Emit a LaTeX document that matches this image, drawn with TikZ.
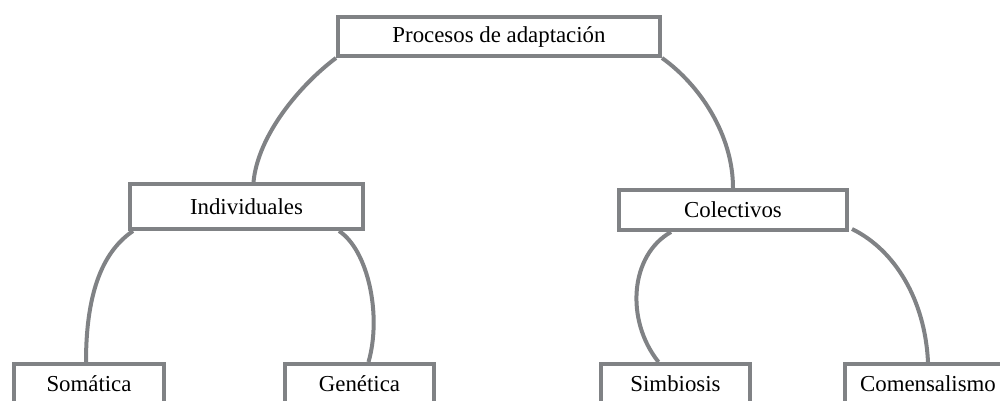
\documentclass[tikz,border=0pt]{standalone}
\usepackage{fontspec}
\setmainfont{Liberation Serif}
\usetikzlibrary{calc}
\definecolor{linegray}{RGB}{128,130,133}
\begin{document}
\begin{tikzpicture}[x=0.02cm,y=-0.02cm,
  box/.style={draw=linegray,line width=0.08cm,fill=white,inner sep=0pt,
    font=\fontsize{13}{15}\selectfont,text=black},
  link/.style={draw=linegray,line width=0.08cm}]
\useasboundingbox (0,0) rectangle (1000,401);
\clip (0,0) rectangle (1000,401);
\node[box,minimum width=322*0.02cm,minimum height=39*0.02cm] (top) at (499,36.5) {Procesos de adaptación};
\node[box,minimum width=233*0.02cm,minimum height=45*0.02cm] (ind) at (246.5,206.5) {Individuales};
\node[box,minimum width=228*0.02cm,minimum height=40*0.02cm] (col) at (733,210) {Colectivos};
\node[box,minimum width=150*0.02cm,minimum height=40*0.02cm] (som) at (89,384) {Somática};
\node[box,minimum width=149*0.02cm,minimum height=40*0.02cm] (gen) at (359.5,384) {Genética};
\node[box,minimum width=149*0.02cm,minimum height=40*0.02cm] (sim) at (675.5,384) {Simbiosis};
\node[box,minimum width=166*0.02cm,minimum height=40*0.02cm] (com) at (928,384) {Comensalismo};
\draw[link] (top.south west) .. controls (300,85) and (258,135) .. ($(ind.north)+(7,0)$);
\draw[link] (top.south east) .. controls (700,85) and (733,135) .. (col.north);
\draw[link] ($(ind.south west)+(5,0)$) .. controls (105,250) and (86,288) .. ($(som.north)+(-3,0)$);
\draw[link] ($(ind.south east)+(-26,0)$) .. controls (368,250) and (382,315) .. ($(gen.north)+(9,0)$);
\draw[link] ($(col.south west)+(54,0)$) .. controls (630,255) and (625,320) .. ($(sim.north)+(-17,0)$);
\draw[link] ($(col.south east)+(3,-3)$) .. controls (895,250) and (925,300) .. (com.north);
\end{tikzpicture}
\end{document}
